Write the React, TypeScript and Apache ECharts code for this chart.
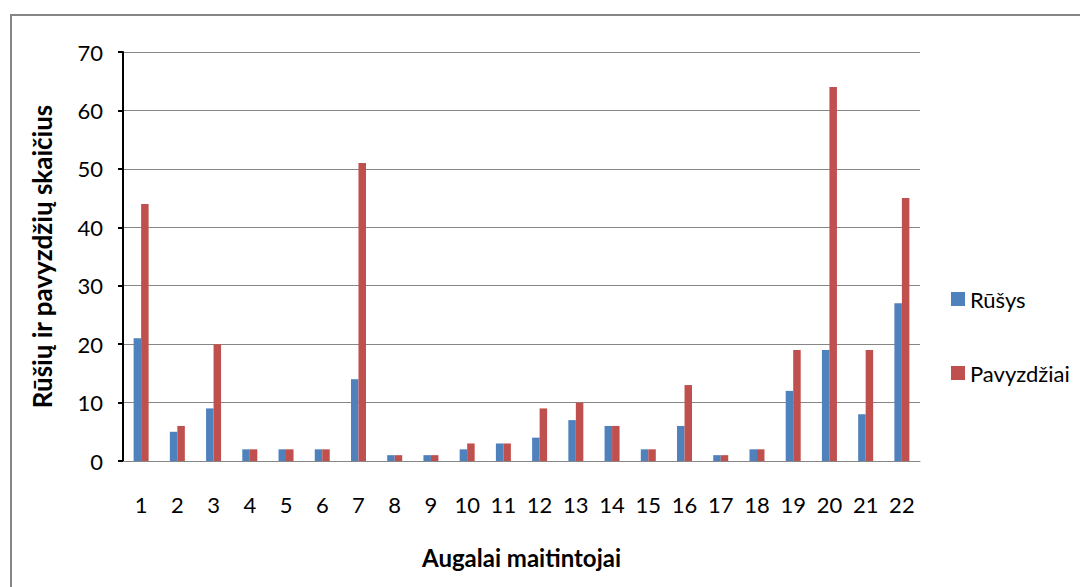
import React, { useEffect, useRef } from "react";
import * as echarts from "echarts";

const categories = ["1","2","3","4","5","6","7","8","9","10","11","12","13","14","15","16","17","18","19","20","21","22"];
const rusys = [21, 5, 9, 2, 2, 2, 14, 1, 1, 2, 3, 4, 7, 6, 2, 6, 1, 2, 12, 19, 8, 27];
const pavyzdziai = [44, 6, 20, 2, 2, 2, 51, 1, 1, 3, 3, 9, 10, 6, 2, 13, 1, 2, 19, 64, 19, 45];
const yTicks = { min: 0, max: 70, interval: 10 };

const FONT = "Lato, 'Open Sans', sans-serif";

export default function App() {
  const ref = useRef<HTMLDivElement>(null);
  useEffect(() => {
    if (!ref.current) return;
    const chart = echarts.init(ref.current, null, { renderer: "svg" });
    chart.setOption({
      animation: false,
      backgroundColor: "#ffffff",
      textStyle: { fontFamily: FONT },
      graphic: [
        {
          type: "rect",
          shape: { x: 11, y: 15, width: 1100, height: 600 },
          style: { fill: "none", stroke: "#868686", lineWidth: 2 },
          silent: true,
        },
      ],
      grid: { left: 123, right: 160, top: 52, bottom: 126, containLabel: false },
      legend: {
        orient: "vertical",
        left: 946,
        top: 283,
        itemGap: 52,
        itemWidth: 14,
        itemHeight: 14,
        icon: "rect",
        textStyle: { fontFamily: FONT, fontSize: 22, color: "#000" },
        data: ["Rūšys", "Pavyzdžiai"],
      },
      xAxis: {
        type: "category",
        data: categories,
        name: "Augalai maitintojai",
        nameLocation: "middle",
        nameGap: 84,
        nameTextStyle: { fontFamily: FONT, fontSize: 24, fontWeight: "bold", color: "#000" },
        axisLine: { lineStyle: { color: "#868686", width: 1 } },
        axisTick: { show: false },
        axisLabel: { fontFamily: FONT, fontSize: 22, color: "#000", margin: 32, interval: 0 },
      },
      yAxis: {
        type: "value",
        min: yTicks.min,
        max: yTicks.max,
        interval: yTicks.interval,
        name: "Rūšių ir pavyzdžių skaičius",
        nameLocation: "middle",
        nameGap: 68,
        nameTextStyle: { fontFamily: FONT, fontSize: 26, fontWeight: "bold", color: "#000" },
        axisLine: { show: true, lineStyle: { color: "#000", width: 2 } },
        axisTick: { show: true, length: 5, lineStyle: { color: "#000", width: 2 } },
        axisLabel: { fontFamily: FONT, fontSize: 22, color: "#000", margin: 20 },
        splitLine: { lineStyle: { color: "#868686", width: 1 } },
      },
      series: [
        {
          name: "Rūšys",
          type: "bar",
          data: rusys,
          barWidth: 7.5,
          barGap: "0%",
          itemStyle: { color: "#4F81BD" },
        },
        {
          name: "Pavyzdžiai",
          type: "bar",
          data: pavyzdziai,
          barWidth: 7.5,
          barGap: "0%",
          itemStyle: { color: "#C0504D" },
        },
      ],
    });
    return () => chart.dispose();
  }, []);
  return (
    <div
      ref={ref}
      style={{ position: "fixed", left: 0, top: 0, width: 1080, height: 587 }}
    />
  );
}
